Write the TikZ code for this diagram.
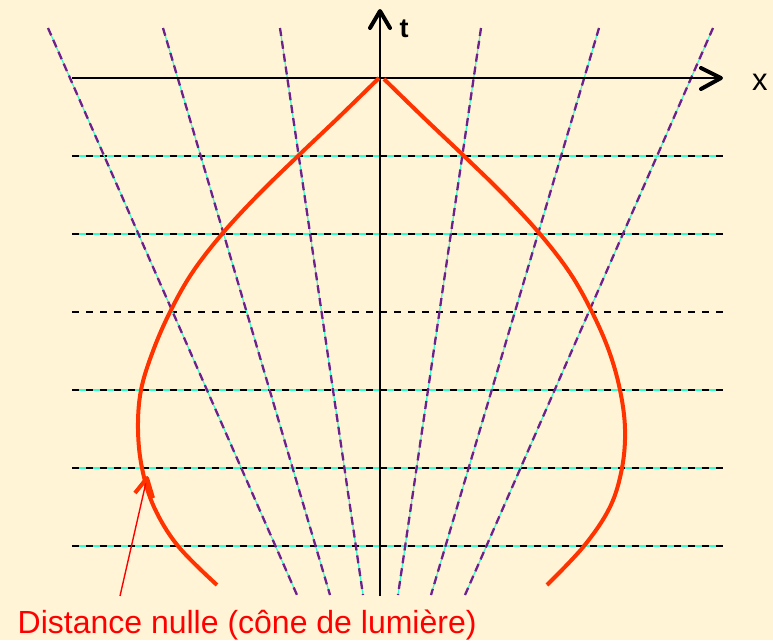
\documentclass[tikz,border=0pt]{standalone}
\usepackage{fontspec}
\setmainfont{Liberation Sans}
\definecolor{bg}{RGB}{255,245,214}
\definecolor{curvered}{RGB}{255,51,0}
\definecolor{labred}{RGB}{255,0,0}
\definecolor{lpurple}{RGB}{110,32,140}
\definecolor{lcyan}{RGB}{51,255,204}
\begin{document}
\begin{tikzpicture}[x=1pt,y=-1pt,
  under/.style={lcyan,line width=1.2pt},
  hdash/.style={black,line width=2pt,dash pattern=on 7pt off 7pt},
  sdash/.style={lpurple,line width=2.3pt,dash pattern=on 8pt off 5pt},
  axis/.style={black,line width=1.6pt},
  chev/.style={black,line width=4pt,line join=round,line cap=round},
  wline/.style={curvered,line width=4pt}]
\fill[bg] (0,0) rectangle (773,640);
\useasboundingbox (0,0) rectangle (773,640);
% horizontal lines
\foreach \y in {156,234,390,468,546} \draw[under] (72,\y) -- (723,\y);
\foreach \y in {156,234,312,390,468,546} \draw[hdash] (72,\y) -- (723,\y);
% slanted lines
\foreach \a/\b in {48/297,163/330,280/363,481/398,599/431,713/465} {
  \draw[under] (\a,28) -- (\b,595);
  \draw[sdash] (\a,28) -- (\b,595);
}
% axes
\coordinate (O) at (380,78);
\coordinate (xs) at (72,78);
\coordinate (xe) at (721,78);
\coordinate (ts) at (380,596);
\coordinate (te) at (380,11);
\draw[axis] (xs) -- (xe);
\draw[axis] (ts) -- (te);
\draw[chev] (701,68) -- (xe) -- (701,89);
\draw[chev] (370,28) -- (te) -- (390,28);
\node[anchor=base west,inner sep=0,font=\fontsize{27}{30}\selectfont\bfseries] (tl) at (399.5,37) {t};
\node[anchor=base west,inner sep=0,font=\fontsize{31}{34}\selectfont] (xl) at (752,90) {x};
% red curve
\draw[wline] plot[smooth,tension=0.6] coordinates {(379,78) (339,117) (298,156) (258,195) (222,234) (192,273) (170,312) (153,351) (141,390) (138,429) (142,468) (154,507) (178,546) (217,585)};
\draw[wline] plot[smooth,tension=0.6] coordinates {(384,79) (423,117) (464,156) (504,195) (540,234) (570,273) (592,312) (609,351) (620,390) (625,429) (622,468) (610,507) (584,546) (547,585)};
% label
\coordinate (tip) at (147,478);
\coordinate (foot) at (120,596);
\draw[labred,line width=1.4pt] (foot) -- (tip);
\draw[curvered,line width=4pt,line join=round] (135,493) -- (tip) -- (153,498);
\node[anchor=base west,inner sep=0,text=labred,font=\fontsize{32}{36}\selectfont] (lab) at (17.5,633) {Distance nulle (cône de lumière)};
\end{tikzpicture}
\end{document}
